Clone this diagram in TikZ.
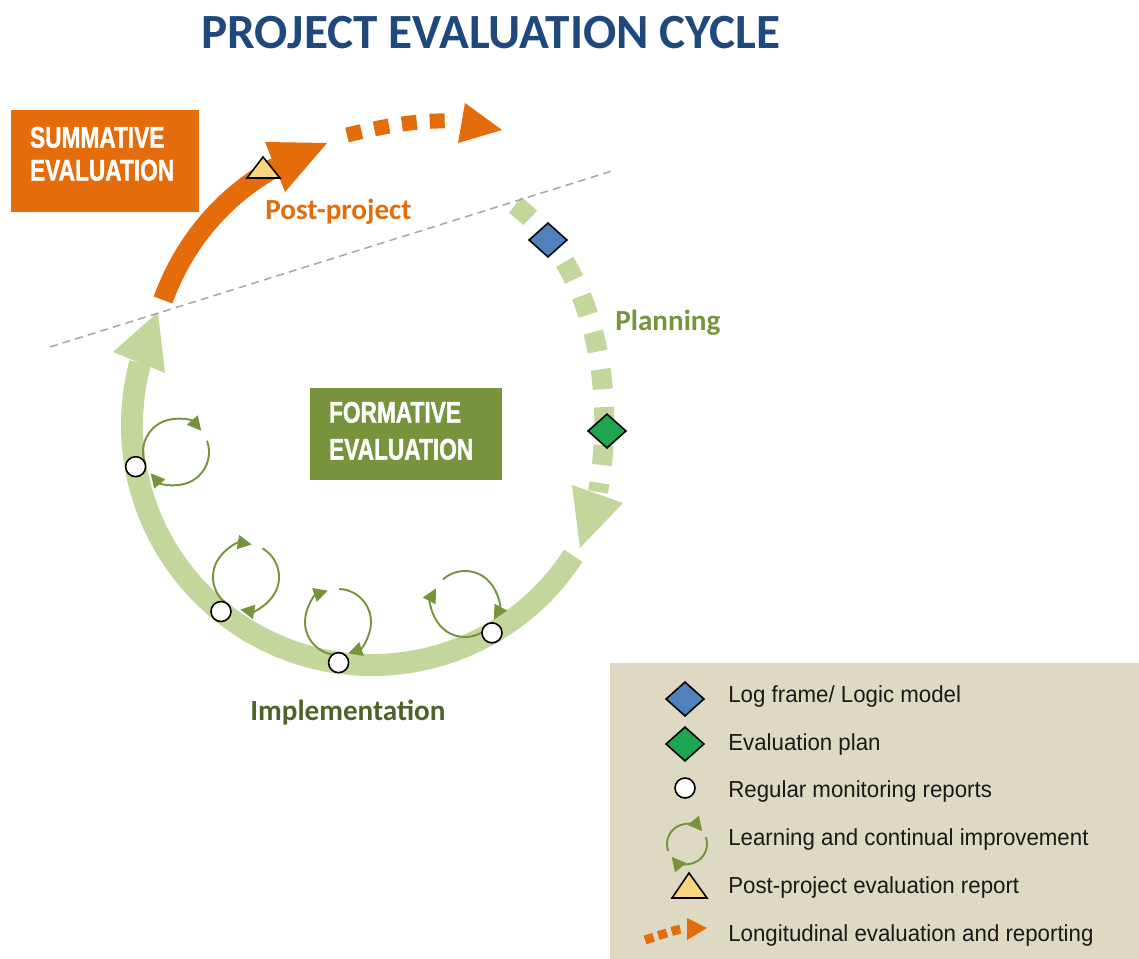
\documentclass[tikz,border=0pt]{standalone}
\usepackage{fontspec}
\setmainfont{Carlito}
\newfontfamily\boxfont[FakeStretch=0.76,FakeBold=1.2]{Liberation Sans Bold}
\newfontfamily\legendfont[FakeStretch=0.96]{Liberation Sans}
\usetikzlibrary{arrows.meta,calc,shapes.geometric}
\definecolor{titleblue}{HTML}{1F497D}
\definecolor{summorange}{HTML}{E46C0A}
\definecolor{formgreen}{HTML}{77933C}
\definecolor{bandgreen}{HTML}{C3D69B}
\definecolor{loopgreen}{HTML}{77933C}
\definecolor{implgreen}{HTML}{4F6228}
\definecolor{logblue}{HTML}{4F81BD}
\definecolor{plangreen}{HTML}{1DA64F}
\definecolor{reportyellow}{HTML}{F8D57E}
\definecolor{legendfill}{HTML}{DDD9C3}
\definecolor{dashgray}{HTML}{A6A6A6}

% two clockwise half loops round a named centre: centre, end angle, radius
\newcommand{\learnloop}[3]{%
  \draw[loopline] (#1) ++({#2-160}:#3) arc[start angle={#2-160},end angle={#2},radius=#3];
  \draw[loopline] (#1) ++({#2+20}:#3) arc[start angle={#2+20},end angle={#2+180},radius=#3];
}

\begin{document}
\begin{tikzpicture}[x=0.02cm,y=-0.02cm,
  titletext/.style={anchor=base,inner sep=0,text=titleblue,font=\bfseries\fontsize{28}{32}\selectfont},
  evalbox/.style={inner ysep=0,inner xsep=0.38cm,align=left,text=white,font=\boxfont\fontsize{17}{18.7}\selectfont},
  stagelabel/.style={anchor=base west,inner sep=0,font=\bfseries\fontsize{16.6}{20}\selectfont},
  greenband/.style={draw=bandgreen,line width=0.44cm},
  planband/.style={draw=bandgreen,line width=0.4cm,dash pattern=on 0.4cm off 0.36cm},
  postband/.style={draw=summorange,line width=0.4cm},
  longband/.style={draw=summorange,line width=0.3cm,dash pattern=on 0.3cm off 0.26cm},
  bandtip/.style={fill=bandgreen},
  posttip/.style={fill=summorange},
  divider/.style={draw=dashgray,line width=0.85pt,dash pattern=on 4.5pt off 3pt},
  logmark/.style={diamond,draw=black,line width=0.9pt,fill=logblue,minimum width=0.77cm,minimum height=0.69cm,inner sep=0},
  planmark/.style={logmark,fill=plangreen},
  monmark/.style={circle,draw=black,line width=0.9pt,fill=white,minimum size=0.4cm,inner sep=0},
  reportmark/.style={draw=black,line width=0.9pt,fill=reportyellow,line join=miter},
  loopline/.style={draw=loopgreen,line width=1.1pt,-{Triangle[length=8pt,width=8pt]}},
  legendtext/.style={anchor=base west,inner sep=0,text=black!90,font=\legendfont\fontsize{13.2}{15}\selectfont}
]
\path[use as bounding box] (0,0) rectangle (1139,959);

% Title
\node[titletext] (title) at (491,49) {PROJECT EVALUATION CYCLE};

% Evaluation boxes
\node[evalbox,fill=summorange,minimum width=3.76cm,minimum height=2.04cm,text width=3.0cm,
  text depth=0.95cm] (summative) at (105,161) {SUMMATIVE\\EVALUATION};
\node[evalbox,fill=formgreen,minimum width=3.84cm,minimum height=1.84cm,text width=3.08cm,
  text depth=0.87cm,font=\boxfont\fontsize{17}{21}\selectfont] (formative) at (406,434) {FORMATIVE\\EVALUATION};

% Cycle centre
\coordinate (cyc) at (372,425);

% Implementation band and its tips
\draw[greenband] (cyc) ++(33:240) arc[start angle=33,end angle=195,radius=240];
\fill[bandtip] (113,352) -- (158,312) -- (165,373) -- cycle;

% Planning, dashed
\draw[planband] (515,205) .. controls (590,262) and (618,380) .. (598,492);
\fill[bandtip] (572,485) -- (623,503) -- (580,548) -- cycle;

% Post-project and longitudinal reporting
\draw[postband] (163,300) .. controls (185,240) and (225,195) .. (276,167);
\fill[posttip] (265,142) -- (327,143) -- (285,192) -- cycle;
\draw[longband] (347,135) .. controls (380,127) and (415,120) .. (452,121);
\fill[posttip] (465,103) -- (502,130) -- (458,143) -- cycle;

% Project end line
\draw[divider] (50,347) -- (615,170);

% Stage labels
\node[stagelabel,text=summorange] (postlabel) at (265,220) {Post-project};
\node[stagelabel,text=formgreen] (planlabel) at (615,331) {Planning};
\node[stagelabel,text=implgreen] (impllabel) at (250,720) {Implementation};

% Learning loops along implementation
\coordinate (loopA) at (176,452);
\coordinate (loopB) at (246,577);
\coordinate (loopC) at (338,622);
\coordinate (loopD) at (465,604);
\learnloop{loopA}{-40}{33}
\learnloop{loopB}{-80}{33}
\learnloop{loopC}{-108}{33}
\learnloop{loopD}{-152}{33}

% Markers
\node[monmark] (monA) at ($(cyc)+(170:240)$) {};
\node[monmark] (monB) at ($(cyc)+(129:240)$) {};
\node[monmark] (monC) at ($(cyc)+(98:240)$) {};
\node[monmark] (monD) at ($(cyc)+(60:240)$) {};
\node[logmark] (logframe) at (548,240) {};
\node[planmark] (evalplan) at (607,431) {};
\filldraw[reportmark] (247,178) -- (263,157) -- (280,178) -- cycle;

% Legend
\fill[legendfill] (610,663) rectangle (1139,959);
\node[logmark] (keylog) at (685,699) {};
\node[planmark] (keyplan) at (685,744) {};
\node[monmark] (keymon) at (685,788) {};
\coordinate (keyloop) at (687,844);
\learnloop{keyloop}{-40}{20}
\filldraw[reportmark] (672,898) -- (689,873) -- (707,898) -- cycle;
\draw[longband,line width=0.18cm,dash pattern=on 0.18cm off 0.1cm] (645,940) .. controls (660,935) and (672,931) .. (685,928);
\fill[posttip] (687,918) -- (707,928) -- (687,940) -- cycle;

\node[legendtext] (txtlog) at (728,702) {Log frame/ Logic model};
\node[legendtext] (txtplan) at (728,750) {Evaluation plan};
\node[legendtext] (txtmon) at (728,797) {Regular monitoring reports};
\node[legendtext] (txtloop) at (728,845) {Learning and continual improvement};
\node[legendtext] (txtreport) at (728,893) {Post-project evaluation report};
\node[legendtext] (txtlong) at (728,941) {Longitudinal evaluation and reporting};

\end{tikzpicture}
\end{document}
